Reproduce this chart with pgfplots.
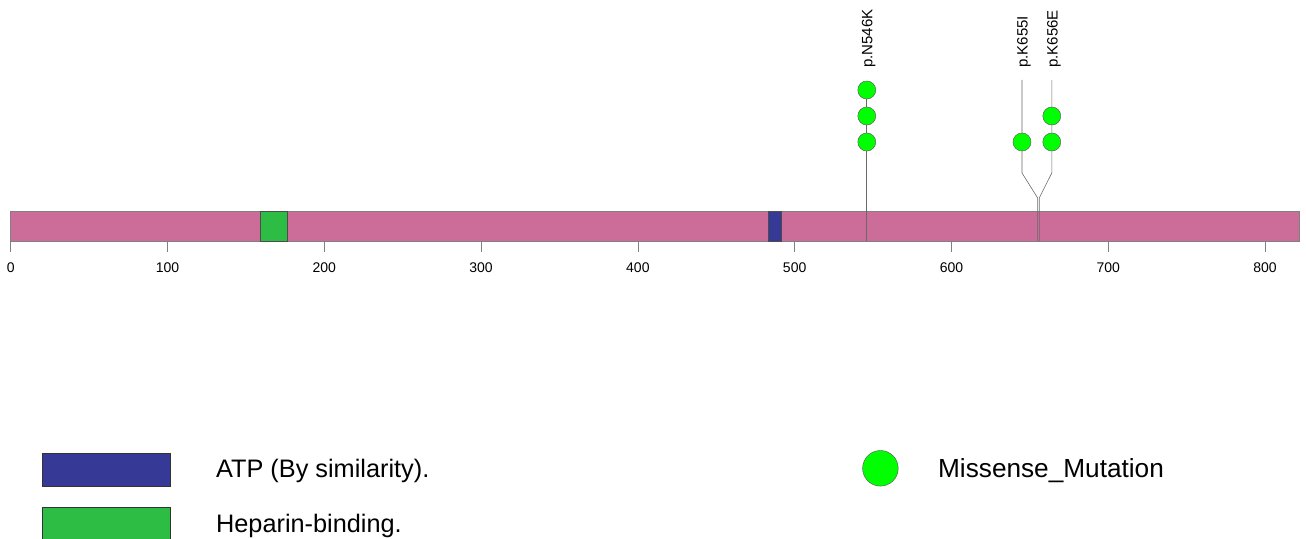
\documentclass[border=0pt]{standalone}
\usepackage{pgfplots}
\pgfplotsset{compat=1.18}
\usepackage{fontspec}
\setmainfont{Liberation Sans}

\definecolor{protein}{RGB}{204,108,153}
\definecolor{atp}{RGB}{54,58,150}
\definecolor{heparin}{RGB}{45,189,69}
\definecolor{missense}{RGB}{0,255,0}
\definecolor{stem}{RGB}{105,105,105}

\begin{document}
\begin{tikzpicture}
\useasboundingbox (0,0) rectangle (1306bp,539bp);
\begin{axis}[
  at={(0,0)}, anchor=south west,
  width=1306bp, height=539bp, scale only axis,
  hide axis, clip=false,
  xmin=-6.82, xmax=826.1,
  ymin=0, ymax=539, y dir=reverse,
]
% protein backbone (residues 0-822)
\addplot[draw=gray, fill=protein, line width=0.6pt] coordinates {(0,211) (822,211) (822,241) (0,241)} -- cycle;
% Heparin-binding region
\addplot[draw=black!70, fill=heparin, line width=0.5pt] coordinates {(159,211) (176.5,211) (176.5,241) (159,241)} -- cycle;
% ATP binding region
\addplot[draw=black!70, fill=atp, line width=0.5pt] coordinates {(483,211) (491.3,211) (491.3,241) (483,241)} -- cycle;

% ruler ticks
\foreach \t in {0,100,...,800}{
  \edef\tmp{\noexpand\draw[gray, line width=0.6pt] (axis cs:\t,241) -- (axis cs:\t,252);
    \noexpand\node[anchor=base, font=\noexpand\fontsize{14bp}{16bp}\noexpand\selectfont] at (axis cs:\t,272.5) {\t};}
  \tmp
}

% mutation stems
\addplot[stem, line width=0.6pt] coordinates {(546,241) (546,90)};
\addplot[stem, line width=0.6pt] coordinates {(655,241) (655,198) (645,173) (645,80)};
\addplot[stem, line width=0.6pt] coordinates {(656,241) (656,198) (664,173) (664,80)};

% missense mutations (one circle per case)
\addplot[only marks, mark=*, mark size=9bp, mark options={fill=missense, draw=black!65, line width=0.45pt}]
  coordinates {(546,142) (546,116) (546,90) (645,142) (664,142) (664,116)};

% mutation labels
\node[rotate=90, anchor=west, inner sep=0pt, font=\fontsize{15bp}{17bp}\selectfont] at (axis cs:547.2,68) {p.N546K};
\node[rotate=90, anchor=west, inner sep=0pt, font=\fontsize{15bp}{17bp}\selectfont] at (axis cs:646.3,68) {p.K655I};
\node[rotate=90, anchor=west, inner sep=0pt, font=\fontsize{15bp}{17bp}\selectfont] at (axis cs:665.3,68) {p.K656E};

% legend
\addplot[draw=black!80, fill=atp, line width=0.5pt] coordinates {(20,453) (101.6,453) (101.6,486) (20,486)} -- cycle;
\addplot[draw=black!80, fill=heparin, line width=0.5pt] coordinates {(20,507) (101.6,507) (101.6,545) (20,545)} -- cycle;
\addplot[only marks, mark=*, mark size=17.8bp, mark options={fill=missense, draw=black!65, line width=0.45pt}]
  coordinates {(554.7,468.3)};
\node[anchor=base west, inner sep=0pt, font=\fontsize{25.3bp}{30bp}\selectfont] at (axis cs:130.9,477.5) {ATP (By similarity).};
\node[anchor=base west, inner sep=0pt, font=\fontsize{25.3bp}{30bp}\selectfont] at (axis cs:130.9,532.5) {Heparin-binding.};
\node[anchor=base west, inner sep=0pt, font=\fontsize{26.2bp}{30bp}\selectfont] at (axis cs:591.4,477.5) {Missense\_Mutation};
\end{axis}
\end{tikzpicture}
\end{document}
